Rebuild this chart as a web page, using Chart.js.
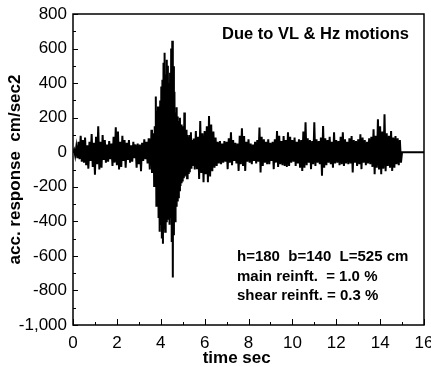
<!DOCTYPE html>
<html>
<head>
<meta charset="utf-8">
<script src="https://cdn.jsdelivr.net/npm/chart.js@4/dist/chart.umd.min.js"></script>
<style>
  html, body { margin: 0; padding: 0; background: #fff; }
  #wrap { width: 431px; height: 367px; }
</style>
</head>
<body>
<div id="wrap"><canvas id="accChart" width="431" height="367"></canvas></div>
<script>
// acceleration response history (cm/sec2)

// 0 - 3.5 s, every 0.05 s
const leadStart = 0, leadDt = 0.05;
const accLead = [
  0, 15, -20, 30, -35, 60, -40, 95, -55, 70,
  -60, 85, -75, 40, -95, 60, -50, 105, -85, 55,
  -130, 90, -70, 150, -100, 60, -90, 100, -45, 70,
  -60, 45, -55, 65, -40, 50, -80, 90, -60, 145,
  -75, 120, -100, 60, -85, 95, -50, 70, -90, 55,
  -45, 70, -60, 40, -55, 60, -35, 45, -90, 50,
  -70, 45, -110, 55, -50, 75, -40, 60, -65, 80
];

// 3.5 - 5.5 s, strong motion, every 0.025 s
const strongStart = 3.5, strongDt = 0.025;
const accStrong = [
  -100, 80, -70, 130, -120, 90, -60, 110,
  -195, 150, -170, 322,
  -310, 240, -260, 265,
  -380, 250, -460, 300,
  -420, 380, -500, 420,
  -530, 518, -440, 576,
  -460, 450, -400, 535,
  -385, 500, -350, 400,
  -420, 460, -380, 600,
  -520, 645, -725, 497,
  -480, 350, -400, 230,
  -310, 260, -280, 207,
  -260, 180, -220, 200,
  -195, 160, -180, 150,
  -170, 140, -150, 230,
  -140, 120, -130, 130,
  -150, 100, -120, 90,
  -110, 100, -90, 115,
  -95, 70, -80, 60
];

// 5.5 - 15 s, every 0.05 s
const tailStart = 5.5, tailDt = 0.05;
const accTail = [
  80, -100, 123, -98, 90, -155, 180, -120, 110, -173,
  123, -127, 150, -173, 209, -140, 161, -110, 120, -90,
  85, -79, 60, -65, 65, -70, 50, -60, 65, -55,
  60, -98, 80, -60, 115, -75, 70, -50, 55, -65,
  50, -108, 95, -70, 138, -80, 94, -108, 60, -55,
  75, -60, 50, -70, 45, -50, 60, -65, 70, -55,
  143, -117, 90, -80, 75, -60, 60, -70, 75, -70,
  55, -50, 60, -98, 75, -60, 123, -85, 95, -70,
  65, -75, 94, -80, 70, -85, 115, -80, 90, -60,
  70, -55, 85, -79, 60, -65, 75, -90, 70, -108,
  120, -90, 173, -75, 80, -60, 70, -98, 65, -70,
  173, -80, 75, -60, 65, -70, 85, -136, 152, -90,
  80, -75, 70, -60, 90, -70, 60, -89, 115, -65,
  70, -60, 65, -75, 90, -70, 115, -80, 75, -65,
  60, -70, 80, -65, 94, -117, 70, -60, 65, -80,
  75, -70, 104, -98, 85, -60, 70, -75, 60, -65,
  80, -70, 90, -85, 133, -127, 95, -90, 190, -100,
  150, -127, 120, -95, 219, -110, 110, -80, 95, -90,
  123, -108, 85, -90, 94, -70, 80, -75, 70, -60
];

// after the record ends the trace rests at zero
const restTimes = [15, 16];

const xRange = [0, 16];
const xStep = 2;
const yRange = [-1000, 800];
const yStep = 200;

const headNote = 'Due to VL & Hz motions';
const specNotes = ['h=180  b=140  L=525 cm', 'main reinft.  = 1.0 %', 'shear reinft. = 0.3 %'];

const toPoints = (vals, t0, step) => vals.map((a, i) => ({ x: +(t0 + i * step).toFixed(3), y: a }));
const points = [
  ...toPoints(accLead, leadStart, leadDt),
  ...toPoints(accStrong, strongStart, strongDt),
  ...toPoints(accTail, tailStart, tailDt),
  ...restTimes.map(t => ({ x: t, y: 0 })),
];

const FONT = '"Liberation Sans", Arial, Helvetica, sans-serif';

// box frame, inward ticks and the text notes
const framePlugin = {
  id: 'frame',
  afterDatasetsDraw(chart) {
    const { ctx, chartArea: a, scales: { x, y } } = chart;
    ctx.save();
    ctx.strokeStyle = '#000';
    ctx.lineWidth = 1.5;
    ctx.strokeRect(a.left, a.top, a.right - a.left, a.bottom - a.top);

    ctx.lineWidth = 1;
    for (let t = xRange[0]; t <= xRange[1]; t += xStep / 2) {
      const px = Math.round(x.getPixelForValue(t)) + 0.5;
      const len = t % xStep === 0 ? 6 : 3;
      ctx.beginPath();
      ctx.moveTo(px, a.bottom);
      ctx.lineTo(px, a.bottom - len);
      ctx.stroke();
    }
    for (let v = yRange[0]; v <= yRange[1]; v += yStep / 2) {
      const py = Math.round(y.getPixelForValue(v)) + 0.5;
      const len = v % yStep === 0 ? 5 : 3;
      ctx.beginPath();
      ctx.moveTo(a.left, py);
      ctx.lineTo(a.left + len, py);
      ctx.stroke();
    }

    ctx.fillStyle = '#000';
    ctx.textAlign = 'left';
    ctx.textBaseline = 'middle';
    ctx.font = 'bold 16.5px ' + FONT;
    ctx.fillText(headNote, 222, 34);
    ctx.font = 'bold 15px ' + FONT;
    specNotes.forEach((s, i) => ctx.fillText(s, 237, 257 + i * 19.5));
    ctx.restore();
  }
};

const tickFont = { family: FONT, size: 17 };
const titleFont = { family: FONT, size: 17, weight: 'bold', lineHeight: 1 };

new Chart(document.getElementById('accChart').getContext('2d'), {
  type: 'line',
  data: {
    datasets: [{
      data: points,
      borderColor: '#000',
      borderWidth: 2,
      pointRadius: 0,
      tension: 0,
      fill: false,
    }],
  },
  options: {
    responsive: false,
    animation: false,
    devicePixelRatio: 1,
    layout: { padding: { top: 14, right: 7, bottom: 0, left: 0 }, autoPadding: false },
    plugins: { legend: { display: false }, tooltip: { enabled: false } },
    scales: {
      x: {
        type: 'linear',
        min: xRange[0],
        max: xRange[1],
        grid: { display: false, drawTicks: false },
        border: { display: false },
        ticks: { stepSize: xStep, padding: 8, font: tickFont, color: '#000', maxRotation: 0, autoSkip: false },
        title: {
          display: true,
          // trailing spaces pull the centred title left, under 6–12 s
          text: 'time sec\u00a0\u00a0\u00a0\u00a0\u00a0',
          font: titleFont, color: '#000', padding: { top: 0, bottom: 0 },
        },
        afterFit(s) { s.height = 42; s.paddingLeft = 0; s.paddingRight = 0; },
      },
      y: {
        min: yRange[0],
        max: yRange[1],
        grid: { display: false, drawTicks: false },
        border: { display: false },
        ticks: { stepSize: yStep, padding: 6, font: tickFont, color: '#000', autoSkip: false },
        title: { display: true, text: 'acc. response  cm/sec2', font: titleFont, color: '#000', padding: { top: 7, bottom: 0 } },
        afterFit(s) { s.width = 73; s.paddingTop = 0; s.paddingBottom = 0; },
      },
    },
  },
  plugins: [framePlugin],
});
</script>
</body>
</html>
